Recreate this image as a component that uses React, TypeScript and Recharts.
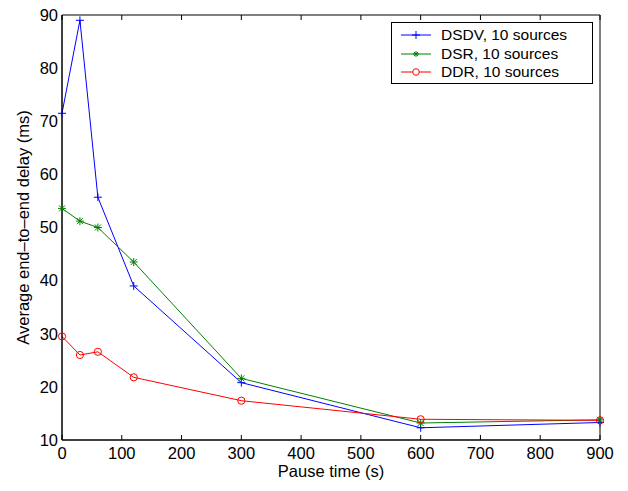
import { LineChart, Line, XAxis, YAxis } from 'recharts';

const pauseTimes = [0, 30, 60, 120, 300, 600, 900];
const dsdv = [71.5, 89, 55.7, 39, 20.8, 12.3, 13.3];
const dsr = [53.6, 51.2, 50, 43.5, 21.6, 13.2, 13.8];
const ddr = [29.5, 26, 26.6, 21.8, 17.4, 13.9, 13.7];

const xTicks = [0, 100, 200, 300, 400, 500, 600, 700, 800, 900];
const yTicks = [10, 20, 30, 40, 50, 60, 70, 80, 90];

const data = pauseTimes.map((t, i) => ({ t, dsdv: dsdv[i], dsr: dsr[i], ddr: ddr[i] }));

const FONT = 'Liberation Sans, Arial, Helvetica, sans-serif';
const FS = 16.5;
const BLUE = '#0000ff';
const GREEN = '#008000';
const RED = '#ff0000';

const plusDot = (p: any) => {
  const { cx, cy, index } = p;
  return (
    <path key={'p' + index} d={`M${cx - 4},${cy}H${cx + 4}M${cx},${cy - 4}V${cy + 4}`} stroke={BLUE} strokeWidth={1} fill="none" />
  );
};

const starDot = (p: any) => {
  const { cx, cy, index } = p;
  const d = 3;
  return (
    <path
      key={'s' + index}
      d={`M${cx - 4},${cy}H${cx + 4}M${cx},${cy - 4}V${cy + 4}M${cx - d},${cy - d}L${cx + d},${cy + d}M${cx - d},${cy + d}L${cx + d},${cy - d}`}
      stroke={GREEN}
      strokeWidth={1}
      fill="none"
    />
  );
};

const circleDot = (p: any) => {
  const { cx, cy, index } = p;
  return <circle key={'c' + index} cx={cx} cy={cy} r={3.6} stroke={RED} strokeWidth={1} fill="none" />;
};

const legendItems = [
  { name: 'DSDV, 10 sources', color: BLUE, kind: 'plus' },
  { name: 'DSR, 10 sources', color: GREEN, kind: 'star' },
  { name: 'DDR, 10 sources', color: RED, kind: 'circle' },
];

const LegendBox = () => (
  <div
    style={{
      position: 'absolute',
      top: 22,
      left: 391,
      border: '1px solid #000',
      background: '#fff',
      width: 202,
      height: 62,
      boxSizing: 'border-box',
      paddingTop: 3,
      fontFamily: FONT,
      fontSize: 15.5,
    }}
  >
    {legendItems.map((it) => (
      <div key={it.name} style={{ display: 'flex', alignItems: 'center', height: 18.5 }}>
        <svg width={49} height={18} style={{ flex: 'none' }}>
          <line x1={9} x2={39} y1={9} y2={9} stroke={it.color} strokeWidth={1} />
          {it.kind === 'plus' && <path d="M20,9H28M24,5V13" stroke={it.color} fill="none" />}
          {it.kind === 'star' && (
            <path d="M21,9H27M24,6V12M22,7L26,11M22,11L26,7" stroke={it.color} fill="none" />
          )}
          {it.kind === 'circle' && <circle cx={24} cy={9} r={3.3} stroke={it.color} fill="#fff" />}
        </svg>
        <span style={{ whiteSpace: 'nowrap' }}>{it.name}</span>
      </div>
    ))}
  </div>
);

export default function App() {
  const tickStyle = { fill: '#000', fontSize: FS, fontFamily: FONT };
  return (
    <div style={{ position: 'absolute', left: 0, top: 0, width: 628, height: 491, background: '#fff' }}>
      <LineChart width={628} height={491} data={data} margin={{ top: 15, right: 28, bottom: 11, left: 24 }}>
        <XAxis
          xAxisId={0}
          dataKey="t"
          type="number"
          domain={[0, 900]}
          ticks={xTicks}
          interval={0}
          height={40}
          tickSize={0}
          tickMargin={7}
          tickLine={false}
          axisLine={{ stroke: '#000' }}
          tick={tickStyle}
          label={{ value: 'Pause time (s)', position: 'insideBottom', offset: 3, fill: '#000', fontSize: FS, fontFamily: FONT }}
        />
        <XAxis
          xAxisId="bm"
          dataKey="t"
          type="number"
          domain={[0, 900]}
          ticks={xTicks}
          interval={0}
          orientation="bottom"
          mirror
          tickSize={5}
          tickFormatter={() => ''}
          axisLine={{ stroke: '#000' }}
          tickLine={{ stroke: '#000' }}
        />
        <XAxis
          xAxisId="top"
          dataKey="t"
          type="number"
          domain={[0, 900]}
          ticks={xTicks}
          interval={0}
          orientation="top"
          mirror
          tickSize={5}
          tickFormatter={() => ''}
          axisLine={{ stroke: '#000' }}
          tickLine={{ stroke: '#000' }}
        />
        <YAxis
          yAxisId={0}
          type="number"
          domain={[10, 90]}
          ticks={yTicks}
          interval={0}
          width={38}
          tickSize={0}
          tickMargin={4}
          tickLine={false}
          axisLine={{ stroke: '#000' }}
          tick={tickStyle}
          label={{
            value: 'Average end–to–end delay (ms)',
            angle: -90,
            position: 'insideLeft',
            offset: -1,
            fill: '#000',
            fontSize: FS,
            fontFamily: FONT,
            style: { textAnchor: 'middle' },
          }}
        />
        <YAxis
          yAxisId="lm"
          type="number"
          domain={[10, 90]}
          ticks={yTicks}
          interval={0}
          orientation="left"
          mirror
          tickSize={5}
          tickFormatter={() => ''}
          axisLine={{ stroke: '#000' }}
          tickLine={{ stroke: '#000' }}
        />
        <YAxis
          yAxisId="right"
          type="number"
          domain={[10, 90]}
          ticks={yTicks}
          interval={0}
          orientation="right"
          mirror
          tickSize={5}
          tickFormatter={() => ''}
          axisLine={{ stroke: '#000' }}
          tickLine={{ stroke: '#000' }}
        />
        <Line dataKey="dsdv" name="DSDV, 10 sources" stroke={BLUE} strokeWidth={1} dot={plusDot} isAnimationActive={false} />
        <Line dataKey="dsr" name="DSR, 10 sources" stroke={GREEN} strokeWidth={1} dot={starDot} isAnimationActive={false} />
        <Line dataKey="ddr" name="DDR, 10 sources" stroke={RED} strokeWidth={1} dot={circleDot} isAnimationActive={false} />
      </LineChart>
      <LegendBox />
    </div>
  );
}
